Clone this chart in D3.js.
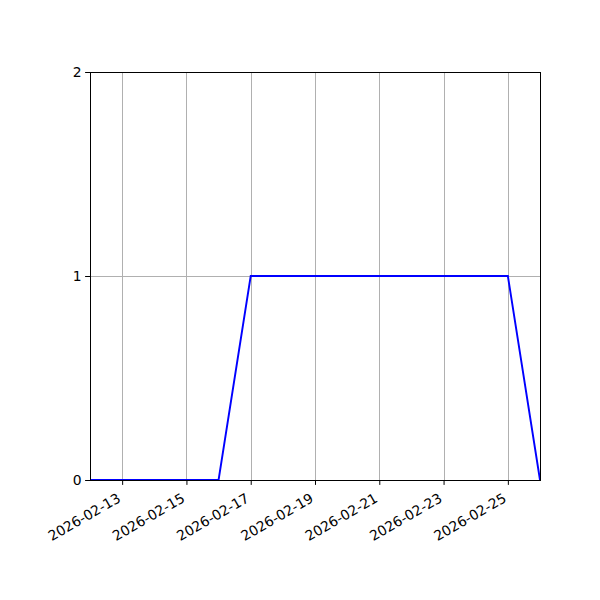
<!DOCTYPE html>
<html>
<head>
<meta charset="utf-8">
<script src="https://cdn.jsdelivr.net/npm/d3@7"></script>
<style>
body { margin: 0; background: #fff; }
</style>
</head>
<body>
<div id="chart"></div>
<script>
var dates = ["2026-02-12", "2026-02-13", "2026-02-14", "2026-02-15", "2026-02-16",
             "2026-02-17", "2026-02-18", "2026-02-19", "2026-02-20", "2026-02-21",
             "2026-02-22", "2026-02-23", "2026-02-24", "2026-02-25", "2026-02-26"];
var counts = [0, 0, 0, 0, 0, 1, 1, 1, 1, 1, 1, 1, 1, 1, 0];
var xTicks = ["2026-02-13", "2026-02-15", "2026-02-17", "2026-02-19", "2026-02-21", "2026-02-23", "2026-02-25"];
var yTicks = [0, 1, 2];

var parse = d3.utcParse("%Y-%m-%d"),
    fmt = d3.utcFormat("%Y-%m-%d");

var svg = d3.select("#chart").append("svg")
    .attr("width", 600)
    .attr("height", 600),
    margin = {top: 72, right: 60, bottom: 120, left: 90},
    width = 600 - margin.left - margin.right,
    height = 600 - margin.top - margin.bottom,
    g = svg.append("g").attr("transform", "translate(" + margin.left + "," + margin.top + ")");

var data = dates.map(function(d, i) { return {date: parse(d), value: counts[i]}; });

var x = d3.scaleUtc().domain(d3.extent(data, function(d) { return d.date; })).range([0, width]),
    y = d3.scaleLinear().domain([0, 2]).range([height, 0]);

// grid
g.append("g")
    .selectAll("line")
    .data(xTicks.map(parse))
  .enter().append("line")
    .attr("x1", function(d) { return Math.round(x(d)) + 0.5; })
    .attr("x2", function(d) { return Math.round(x(d)) + 0.5; })
    .attr("y1", 0)
    .attr("y2", height)
    .attr("stroke", "#b0b0b0")
    .attr("stroke-width", 1);

g.append("g")
    .selectAll("line")
    .data(yTicks)
  .enter().append("line")
    .attr("x1", 0)
    .attr("x2", width)
    .attr("y1", function(d) { return Math.round(y(d)) + 0.5; })
    .attr("y2", function(d) { return Math.round(y(d)) + 0.5; })
    .attr("stroke", "#b0b0b0")
    .attr("stroke-width", 1);

var line = d3.line()
    .x(function(d) { return x(d.date); })
    .y(function(d) { return y(d.value); });

g.append("path")
    .datum(data)
    .attr("fill", "none")
    .attr("stroke", "#0000ff")
    .attr("stroke-width", 1.9)
    .attr("d", line);

// axes
var xAxis = g.append("g")
    .attr("transform", "translate(0," + height + ")")
    .call(d3.axisBottom(x).tickValues(xTicks.map(parse)).tickFormat(fmt).tickSize(4.9).tickPadding(3.5));

xAxis.selectAll("text")
    .attr("font-family", "DejaVu Sans")
    .attr("font-size", 13.9)
    .attr("fill", "#000")
    .attr("text-anchor", "end")
    .attr("x", 0)
    .attr("y", 0)
    .attr("dy", 0)
    .attr("transform", "translate(-1,21) rotate(-30)");

var yAxis = g.append("g")
    .call(d3.axisLeft(y).tickValues(yTicks).tickFormat(d3.format("d")).tickSize(4.9).tickPadding(3.5));

yAxis.selectAll("text")
    .attr("font-family", "DejaVu Sans")
    .attr("font-size", 13.9)
    .attr("fill", "#000");

[xAxis, yAxis].forEach(function(a) {
  a.select(".domain").remove();
  a.selectAll(".tick line").attr("stroke", "#000").attr("stroke-width", 1);
});

g.append("rect")
    .attr("x", 0.5)
    .attr("y", 0.5)
    .attr("width", width)
    .attr("height", height)
    .attr("fill", "none")
    .attr("stroke", "#000")
    .attr("stroke-width", 1);
</script>
</body>
</html>
